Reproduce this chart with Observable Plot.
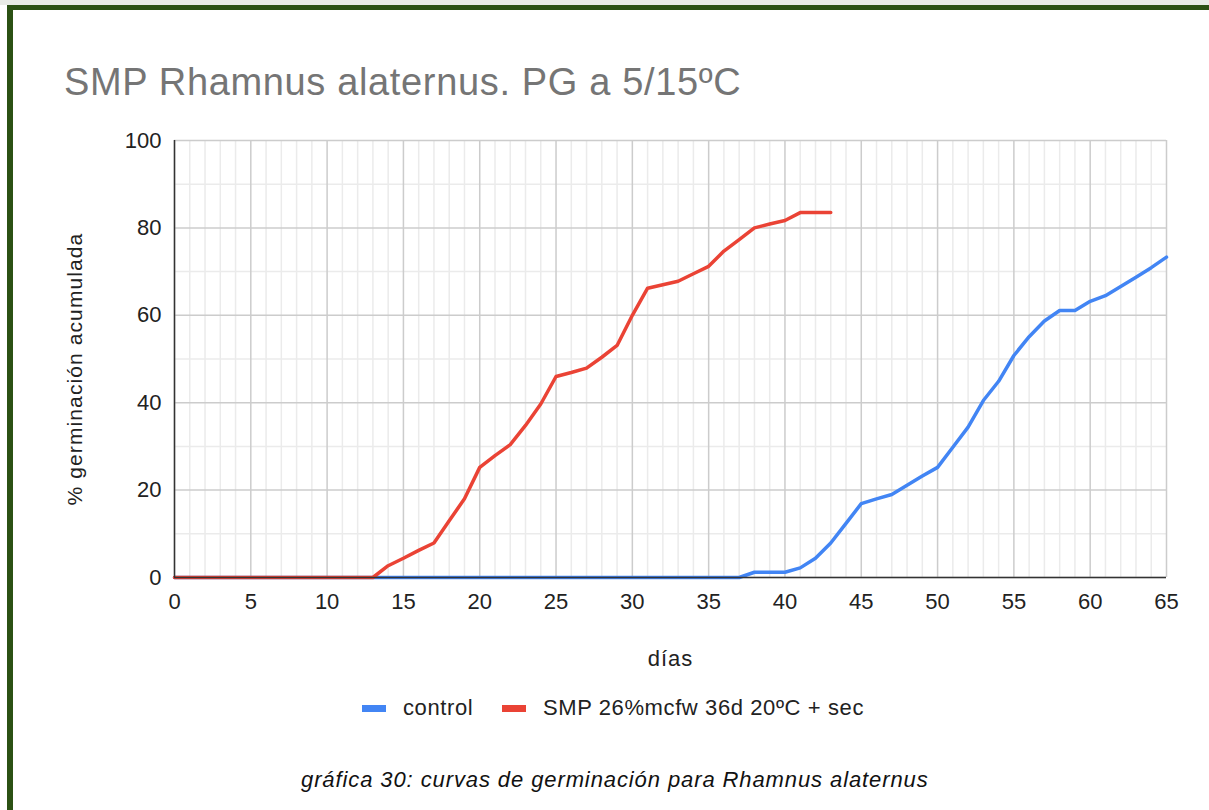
<!DOCTYPE html>
<html>
<head>
<meta charset="utf-8">
<script src="https://cdn.jsdelivr.net/npm/d3@7"></script>
<script src="https://cdn.jsdelivr.net/npm/@observablehq/plot@0.6"></script>
<style>
  html, body { margin: 0; padding: 0; background: #fff; }
  body { width: 1209px; height: 810px; position: relative; overflow: hidden; font-family: "Liberation Sans", Arial, sans-serif; }
  #topstrip { position: absolute; left: 0; top: 0; width: 1209px; height: 5px; background: #e8ebe6; }
  #frame { position: absolute; left: 7px; top: 5px; width: 1202px; height: 805px; border-left: 6px solid #2b5114; border-top: 5px solid #2b5114; box-sizing: border-box; }
  #title { position: absolute; left: 64px; top: 61px; font-size: 38px; letter-spacing: 0.65px; color: #757575; white-space: nowrap; }
  #chart { position: absolute; left: 0; top: 120px; }
  #legend { position: absolute; top: 694px; left: 0; width: 1209px; font-size: 22px; letter-spacing: 0.6px; color: #222; white-space: nowrap; }
  .item { position: absolute; top: 0; display: flex; align-items: center; height: 28px; }
  .sw { display: inline-block; width: 24px; height: 7px; margin-right: 17px; }
  #caption { position: absolute; top: 767px; left: 301px; font-size: 22px; letter-spacing: 0.9px; font-style: italic; color: #111; white-space: nowrap; }
</style>
</head>
<body>
<div id="topstrip"></div>
<div id="frame"></div>
<div id="title">SMP Rhamnus alaternus. PG a 5/15ºC</div>
<div id="chart"></div>
<div id="legend">
  <div class="item" style="left:362px"><span class="sw" style="background:#4285f4"></span>control</div>
  <div class="item" style="left:502px"><span class="sw" style="background:#ea4335"></span>SMP 26%mcfw 36d 20ºC + sec</div>
</div>
<div id="caption">gráfica 30: curvas de germinación para Rhamnus alaternus</div>
<script>
// ---- data ----
const controlDays = d3.range(0, 66);
const controlValues = [
  0,0,0,0,0,0,0,0,0,0,
  0,0,0,0,0,0,0,0,0,0,
  0,0,0,0,0,0,0,0,0,0,
  0,0,0,0,0,0,0,0,1.2,1.2,
  1.2,2.2,4.4,7.9,12.4,16.9,18.0,19.0,21.1,23.2,
  25.2,29.8,34.4,40.5,44.9,50.8,55.1,58.7,61.1,61.1,
  63.2,64.5,66.6,68.7,70.9,73.3
];
const smpDays = d3.range(0, 44);
const smpValues = [
  0,0,0,0,0,0,0,0,0,0,
  0,0,0,0,2.7,4.4,6.2,7.9,13.0,18.0,
  25.2,27.9,30.4,34.8,39.7,46.0,46.9,47.9,50.4,53.1,
  60.0,66.2,67.0,67.8,69.5,71.2,74.7,77.3,80.0,80.9,
  81.7,83.5,83.5,83.5
];
const xMajorTicks = [0,5,10,15,20,25,30,35,40,45,50,55,60,65];
const yMajorTicks = [0,20,40,60,80,100];
const xMinorTicks = d3.range(0, 66).filter(d => d % 5 !== 0);
const yMinorTicks = [10,30,50,70,90];
const seriesNames = ["control", "SMP 26%mcfw 36d 20ºC + sec"];
const seriesColors = ["#4285f4", "#ea4335"];
const xLabel = "días";
const yLabel = "% germinación acumulada";

const control = controlDays.map((d, i) => ({day: d, value: controlValues[i]}));
const smp = smpDays.map((d, i) => ({day: d, value: smpValues[i]}));

const chart = Plot.plot({
  width: 1209,
  height: 560,
  marginLeft: 174,
  marginRight: 43,
  marginTop: 20,
  marginBottom: 103,
  style: {fontFamily: "'Liberation Sans', Arial, sans-serif", background: "transparent", overflow: "visible"},
  x: {domain: [0, 65], ticks: xMajorTicks, tickSize: 0, tickPadding: 16, label: null},
  y: {domain: [0, 100], ticks: yMajorTicks, tickSize: 0, tickPadding: 13, label: null},
  marks: [
    Plot.ruleX(xMinorTicks, {stroke: "#ebebeb", strokeWidth: 1.5}),
    Plot.ruleY(yMinorTicks, {stroke: "#ebebeb", strokeWidth: 1.5}),
    Plot.ruleX(xMajorTicks, {stroke: "#cccccc", strokeWidth: 1.5}),
    Plot.ruleY(yMajorTicks, {stroke: "#cccccc", strokeWidth: 1.5}),
    Plot.line(control, {x: "day", y: "value", stroke: seriesColors[0], strokeWidth: 3.5}),
    Plot.line(smp, {x: "day", y: "value", stroke: seriesColors[1], strokeWidth: 3.5}),
    Plot.ruleX([0], {stroke: "#333", strokeWidth: 1.5}),
    Plot.ruleY([0], {stroke: "#333", strokeWidth: 1.5}),
    Plot.axisX({ticks: xMajorTicks, tickSize: 0, tickPadding: 16, fontSize: 22, fill: "#222", label: null}),
    Plot.axisY({ticks: yMajorTicks, tickSize: 0, tickPadding: 13, fontSize: 22, fill: "#222", label: null}),
    Plot.text([xLabel], {frameAnchor: "bottom", dy: 88, fontSize: 22, fill: "#222"}),
    Plot.text([yLabel], {frameAnchor: "left", textAnchor: "middle", rotate: -90, dx: -99, dy: 10, fontSize: 21, fill: "#222"})
  ]
});
d3.select(chart).selectAll("text").filter(function() { return this.textContent === yLabel; }).attr("letter-spacing", "1.1px");
d3.select(chart).selectAll("text").filter(function() { return this.textContent === xLabel; }).attr("letter-spacing", "1px");
document.getElementById("chart").appendChild(chart);
</script>
</body>
</html>
